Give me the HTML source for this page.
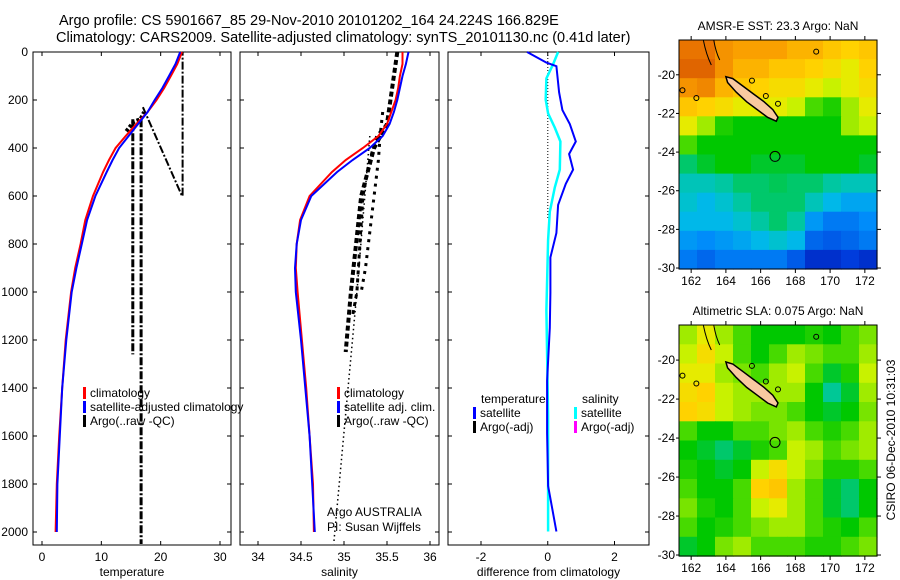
<!DOCTYPE html>
<html><head><meta charset="utf-8">
<style>
body{margin:0;background:#fff;}
svg{display:block;font-family:"Liberation Sans",sans-serif;}
text{fill:#000;}
</style></head>
<body>
<svg id="fig" width="900" height="580" viewBox="0 0 900 580" xmlns="http://www.w3.org/2000/svg">
<rect width="900" height="580" fill="#fff"/>
<text x="59" y="25" font-size="14.5">Argo profile: CS 5901667_85 29-Nov-2010 20101202_164 24.224S 166.829E</text>
<text x="56" y="42" font-size="14.5">Climatology: CARS2009. Satellite-adjusted climatology: synTS_20101130.nc (0.41d later)</text>
<g id="plots"></g>
</svg>
<script>
// ---------- data ----------
const depthLevels = [0,50,100,150,200,250,300,350,400,450,500,600,700,800,900,1000,1200,1400,1600,1800,2000];
const tempSat  = [23.3,22.5,21.4,20.3,19.0,17.8,16.2,14.6,13.0,11.9,10.9,9.0,7.6,6.7,5.8,5.0,4.1,3.4,3.0,2.6,2.5];
const tempClim = [23.6,22.8,21.7,20.6,19.3,17.8,15.9,14.1,12.4,11.3,10.3,8.6,7.3,6.5,5.6,4.9,4.0,3.4,2.9,2.5,2.3];
const salSat   = [35.75,35.72,35.68,35.65,35.62,35.58,35.53,35.45,35.3,35.1,34.92,34.62,34.5,34.45,34.43,34.44,34.5,34.55,34.6,34.63,34.66];
const salClim  = [35.68,35.68,35.65,35.63,35.6,35.55,35.5,35.4,35.22,35.02,34.86,34.6,34.49,34.45,34.44,34.46,34.51,34.56,34.6,34.64,34.65];
const argoTempA = {t:[15.3,15.3], d:[280,1260]};
const argoTempB = {t:[16.7,16.7], d:[280,2050]};
const argoTempC = {t:[17.0,23.6,23.7,23.7], d:[230,600,600,0]};
const argoTempD = {t:[14.2,15.5,16.6,17.2], d:[330,290,280,250]};
const argoSalA = {s:[35.62,35.5,35.35,35.2,35.08,35.02], d:[0,300,400,600,1000,1250]};
const argoSalB = {s:[35.5,35.38,35.3,35.22,35.15,35.1], d:[300,350,450,600,1000,1100]};
const argoSalD = {s:[35.45,35.42,35.4,35.35,35.25,35.2], d:[250,350,450,600,900,1000]};
const argoSalC = {s:[35.3,35.15,34.88], d:[350,1000,2050]};
const diffTempDepth = [0,44,59,168,242,300,373,425,490,549,637,754,856,1003,1149,1369,1588,1808,1998];
const diffTempVal   = [-0.62,-0.04,0.26,0.34,0.44,0.66,0.84,0.64,0.76,0.54,0.31,0.26,0.08,0.08,0.06,-0.02,-0.02,0.01,0.26];
const diffSalDepth = [0,51,110,198,256,315,373,490,564,666,783,1076,1515,1998];
const diffSalVal   = [0.31,0.16,-0.04,-0.06,0.01,0.21,0.38,0.36,0.21,0.06,0.01,-0.04,0.01,0.01];
const tempTicks = [0,10,20,30];
const salTicks = [34,34.5,35,35.5,36];
const diffTicks = [-2,0,2];
const depthTicks = [0,200,400,600,800,1000,1200,1400,1600,1800,2000];
const lonTicks = [162,164,166,168,170,172];
const latTicks = [-20,-22,-24,-26,-28,-30];
const sstField = [
[0.85,0.85,0.8,0.78,0.78,0.78,0.75,0.75,0.72,0.7,0.72],
[0.88,0.88,0.8,0.75,0.75,0.72,0.72,0.7,0.68,0.65,0.7],
[0.8,0.82,0.75,0.72,0.7,0.68,0.68,0.65,0.62,0.65,0.68],
[0.72,0.7,0.68,0.65,0.65,0.65,0.62,0.55,0.52,0.6,0.65],
[0.65,0.6,0.52,0.5,0.5,0.5,0.5,0.5,0.5,0.6,0.62],
[0.55,0.5,0.5,0.5,0.5,0.5,0.5,0.5,0.5,0.5,0.5],
[0.45,0.48,0.5,0.5,0.48,0.48,0.48,0.5,0.5,0.5,0.48],
[0.4,0.4,0.42,0.45,0.45,0.46,0.45,0.45,0.42,0.4,0.4],
[0.38,0.35,0.38,0.42,0.45,0.45,0.45,0.4,0.35,0.32,0.32],
[0.35,0.35,0.35,0.38,0.42,0.45,0.42,0.3,0.25,0.25,0.28],
[0.3,0.28,0.3,0.32,0.35,0.38,0.35,0.22,0.2,0.22,0.25],
[0.25,0.22,0.25,0.25,0.25,0.25,0.2,0.12,0.12,0.15,0.12]];
const slaField = [
[0.6,0.65,0.6,0.55,0.5,0.5,0.5,0.52,0.5,0.55,0.58],
[0.62,0.68,0.62,0.55,0.5,0.55,0.6,0.58,0.55,0.55,0.6],
[0.65,0.65,0.6,0.58,0.55,0.6,0.62,0.55,0.48,0.52,0.62],
[0.68,0.7,0.62,0.6,0.6,0.6,0.6,0.5,0.43,0.48,0.6],
[0.7,0.68,0.62,0.6,0.58,0.58,0.55,0.5,0.48,0.5,0.58],
[0.55,0.5,0.5,0.55,0.55,0.58,0.6,0.55,0.52,0.55,0.6],
[0.5,0.48,0.45,0.48,0.52,0.55,0.62,0.6,0.55,0.58,0.6],
[0.52,0.5,0.48,0.5,0.62,0.68,0.62,0.58,0.52,0.52,0.55],
[0.55,0.5,0.5,0.55,0.7,0.72,0.6,0.55,0.48,0.45,0.5],
[0.58,0.52,0.5,0.55,0.62,0.65,0.6,0.55,0.48,0.45,0.5],
[0.55,0.5,0.52,0.55,0.58,0.6,0.6,0.55,0.52,0.5,0.55],
[0.48,0.5,0.58,0.6,0.55,0.55,0.55,0.52,0.52,0.55,0.58]];
const islandLon = [164.0,164.4,165.0,165.6,166.2,166.7,167.0,166.9,166.4,165.8,165.2,164.6,164.1];
const islandLat = [-20.1,-20.2,-20.6,-21.0,-21.4,-21.8,-22.2,-22.4,-22.2,-21.8,-21.4,-20.9,-20.4];
const floatLon = 166.829, floatLat = -24.224;

// ---------- helpers ----------
const NS="http://www.w3.org/2000/svg";
const root=document.getElementById('plots');
function mk(tag,attrs,parent){const e=document.createElementNS(NS,tag);for(const k in attrs)e.setAttribute(k,attrs[k]);(parent||root).appendChild(e);return e;}
function lin(d0,d1,r0,r1){return v=>r0+(v-d0)*(r1-r0)/(d1-d0);}
const PT=52, PB=545;
const yDepth = lin(0,2000,52,532);

function panel(name,x0,x1,xs,ticks,label,yLabels){
  const g=mk('g',{});
  
  
  mk('rect',{x:x0,y:PT,width:x1-x0,height:PB-PT,fill:'none',stroke:'#000','stroke-width':1},g);
  ticks.forEach(t=>{const x=xs(t);
    mk('line',{x1:x,x2:x,y1:PB,y2:PB-4,stroke:'#000'},g);
    mk('line',{x1:x,x2:x,y1:PT,y2:PT+4,stroke:'#000'},g);
    const tx=mk('text',{x:x,y:PB+16,'font-size':12,'text-anchor':'middle'},g);tx.textContent=t;
    });
  depthTicks.forEach(d=>{const y=yDepth(d);
    mk('line',{x1:x0,x2:x0+4,y1:y,y2:y,stroke:'#000'},g);
    mk('line',{x1:x1,x2:x1-4,y1:y,y2:y,stroke:'#000'},g);
    if(yLabels){const tx=mk('text',{x:x0-5,y:y+4,'font-size':12,'text-anchor':'end'},g);tx.textContent=d;
      }});
  const xl=mk('text',{x:(x0+x1)/2,y:576,'font-size':12,'text-anchor':'middle'},g);xl.textContent=label;
  
  return g;
}
function poly(g,xs,vals,depths,style,name){
  const pts=vals.map((v,i)=>xs(v).toFixed(1)+','+yDepth(depths[i]).toFixed(1)).join(' ');
  const p=mk('polyline',Object.assign({points:pts,fill:'none'},style),g);
  
  
  return p;
}
function legend(g,x,y,items){
  items.forEach((it,i)=>{
    mk('rect',{x:x,y:y+i*14-10,width:3,height:12,fill:it[0]},g);
    const t=mk('text',{x:x+7,y:y+i*14,'font-size':12},g);t.textContent=it[1];
    
  });
}

// ---------- temperature ----------
const xT=lin(0,30,42,220);
const gT=panel('temperature-panel',33,231,xT,tempTicks,'temperature',true);
const dashArgo={stroke:'#000','stroke-width':3,'stroke-dasharray':'8,2,2,2'};
poly(gT,xT,argoTempA.t,argoTempA.d,dashArgo,'argo-temp-line');
poly(gT,xT,argoTempB.t,argoTempB.d,dashArgo,'argo-temp-line');
poly(gT,xT,argoTempC.t,argoTempC.d,{stroke:'#000','stroke-width':2,'stroke-dasharray':'8,2,2,2'},'argo-temp-line');
poly(gT,xT,argoTempD.t,argoTempD.d,{stroke:'#000','stroke-width':4,'stroke-dasharray':'3,2'},'argo-temp-line');
poly(gT,xT,tempClim,depthLevels,{stroke:'#f00','stroke-width':2},'temp-climatology-line');
poly(gT,xT,tempSat,depthLevels,{stroke:'#00f','stroke-width':2},'temp-satellite-line');
legend(gT,83,397,[['#f00','climatology'],['#00f','satellite-adjusted climatology'],['#000','Argo(..raw -QC)']]);

// ---------- salinity ----------
const xS=lin(34,36,258,430);
const gS=panel('salinity-panel',240,439,xS,salTicks,'salinity',false);
poly(gS,xS,argoSalA.s,argoSalA.d,{stroke:'#000','stroke-width':4,'stroke-dasharray':'5,3'},'argo-sal-line');
poly(gS,xS,argoSalB.s,argoSalB.d,{stroke:'#000','stroke-width':3,'stroke-dasharray':'4,4'},'argo-sal-line');
poly(gS,xS,argoSalD.s,argoSalD.d,{stroke:'#000','stroke-width':3,'stroke-dasharray':'3,5'},'argo-sal-line');
poly(gS,xS,argoSalC.s,argoSalC.d,{stroke:'#000','stroke-width':1.5,'stroke-dasharray':'1.5,3'},'argo-sal-line');
poly(gS,xS,salClim,depthLevels,{stroke:'#f00','stroke-width':2},'sal-climatology-line');
poly(gS,xS,salSat,depthLevels,{stroke:'#00f','stroke-width':2},'sal-satellite-line');
legend(gS,337,397,[['#f00','climatology'],['#00f','satellite adj. clim.'],['#000','Argo(..raw -QC)']]);
const c1=mk('text',{x:327,y:516,'font-size':12},gS);c1.textContent='Argo AUSTRALIA';

const c2=mk('text',{x:327,y:531,'font-size':12},gS);c2.textContent='PI: Susan Wijffels';


// ---------- difference ----------
const xD=lin(-2,2,481,614.5);
const gD=panel('difference-panel',448,649,xD,diffTicks,'difference from climatology',false);
poly(gD,xD,[0,0],[0,700],{stroke:'#000','stroke-width':1,'stroke-dasharray':'1,2'},'zero-line');
poly(gD,xD,diffSalVal,diffSalDepth,{stroke:'#0ff','stroke-width':2.5},'sal-diff-line');
poly(gD,xD,diffTempVal,diffTempDepth,{stroke:'#00f','stroke-width':2},'temp-diff-line');
const lt=mk('text',{x:481,y:403,'font-size':12},gD);lt.textContent='temperature';

const ls=mk('text',{x:582,y:403,'font-size':12},gD);ls.textContent='salinity';

legend(gD,473,417,[['#00f','satellite'],['#000','Argo(-adj)']]);
legend(gD,574,417,[['#0ff','satellite'],['#f0f','Argo(-adj)']]);

// ---------- maps ----------
const cmapStops=[[0,[0,0,140]],[0.15,[0,60,220]],[0.28,[0,140,250]],[0.36,[0,190,230]],[0.43,[0,200,150]],[0.5,[0,200,0]],[0.57,[100,225,0]],[0.63,[220,245,0]],[0.7,[255,210,0]],[0.78,[250,160,0]],[0.86,[230,110,0]],[1,[190,50,0]]];
function cmap(v){
  for(let i=1;i<cmapStops.length;i++){
    if(v<=cmapStops[i][0]){const a=cmapStops[i-1],b=cmapStops[i],f=(v-a[0])/(b[0]-a[0]);
      const c=a[1].map((x,k)=>Math.round(x+(b[1][k]-x)*f));return `rgb(${c[0]},${c[1]},${c[2]})`;}
  }
  return 'rgb(190,50,0)';
}
function map(name,field,top,bottom,title){
  const g=mk('g',{});
  
  
  const L=679,R=877;
  const lonMin=161.3,lonMax=172.7;
  const latTop=-18.2,latBot=-30.05;
  const xs=lin(lonMin,lonMax,L,R), ys=lin(latTop,latBot,top,bottom);
  const rows=field.length, cols=field[0].length;
  const lonStep=(lonMax-lonMin)/cols, latStep=(latBot-latTop)/rows;
  field.forEach((row,i)=>row.forEach((v,j)=>{
    const x=xs(lonMin+j*lonStep), y=ys(latTop+i*latStep);
    const r=mk('rect',{x:x.toFixed(1),y:y.toFixed(1),width:(xs(lonMin+(j+1)*lonStep)-x+0.6).toFixed(1),height:(ys(latTop+(i+1)*latStep)-y+0.6).toFixed(1),fill:cmap(v)},g);
    
    
  }));
  const isl=mk('polygon',{points:islandLon.map((lo,i)=>xs(lo).toFixed(1)+','+ys(islandLat[i]).toFixed(1)).join(' '),fill:'#f9c9a0',stroke:'#000','stroke-width':1.5},g);
  
  
  mk('path',{d:`M${xs(162.7)},${top} q3,15 8,25 M${xs(163.3)},${top} q2,12 6,20`,fill:'none',stroke:'#000','stroke-width':1},g);
  [[165.5,-20.3],[166.3,-21.1],[167.0,-21.5],[169.2,-18.8],[162.3,-21.2],[161.5,-20.8]].forEach(p=>{
    mk('ellipse',{cx:xs(p[0]),cy:ys(p[1]),rx:2.5,ry:2.5,fill:'none',stroke:'#000','stroke-width':1},g);});
  const fc=mk('circle',{cx:xs(floatLon),cy:ys(floatLat),r:5,fill:'none',stroke:'#000','stroke-width':1},g);
  
  
  mk('rect',{x:L,y:top,width:R-L,height:bottom-top,fill:'none',stroke:'#000'},g);
  lonTicks.forEach(lo=>{const x=xs(lo);
    mk('line',{x1:x,x2:x,y1:bottom,y2:bottom+4,stroke:'#000'},g);
    mk('line',{x1:x,x2:x,y1:top,y2:top-4,stroke:'#000'},g);
    const t=mk('text',{x:x,y:bottom+16,'font-size':12,'text-anchor':'middle'},g);t.textContent=lo;
    });
  latTicks.forEach(la=>{const y=ys(la);
    mk('line',{x1:R,x2:R+4,y1:y,y2:y,stroke:'#000'},g);
    mk('line',{x1:L,x2:L-3,y1:y,y2:y,stroke:'#000'},g);
    const t=mk('text',{x:L-4,y:y+4,'font-size':12,'text-anchor':'end'},g);t.textContent=la;
    });
  const tt=mk('text',{x:(L+R)/2,y:top-10,'font-size':12,'text-anchor':'middle'},g);tt.textContent=title;
  
}
map('sst-map',sstField,40,269,'AMSR-E SST: 23.3 Argo: NaN');
map('sla-map',slaField,325,556,'Altimetric SLA: 0.075 Argo: NaN');
const stamp=mk('text',{x:0,y:0,'font-size':12,'text-anchor':'middle',transform:'translate(895,440) rotate(-90)'});
stamp.textContent='CSIRO 06-Dec-2010 10:31:03';


</script>
</body></html>
